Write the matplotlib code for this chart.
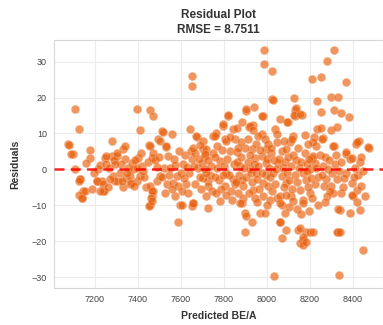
import matplotlib
matplotlib.use("Agg")
import matplotlib.pyplot as plt
import numpy as np

# Predicted values (x) and residuals (y)
pred = [
 7074,7082,7099,7106,7126,7107,7130,7146,7138,7126,7141,7152,7133,7091,7127,
 7177,7177,7161,7208,7231,7239,7246,7211,7239,7242,7215,7195,7185,7222,7250,7223,
 7278,7278,7301,7308,7285,7296,7332,7340,7340,7320,7265,7290,7315,7330,7260,7345,7305,7254,7293,7270,7324,
 7355,7371,7378,7362,7362,7394,7401,7408,7409,7366,7381,7397,7420,7430,7415,7440,7385,7425,7350,7395,7445,
 7456,7470,7454,7456,7464,7470,7456,7464,7456,7471,7487,7502,7466,7459,7451,7466,7494,7510,7502,7518,7530,7533,7541,7520,7490,7480,7510,7535,7525,7545,7500,
 7557,7549,7580,7564,7572,7595,7587,7603,7626,7634,7650,7642,7651,7654,7570,7590,7610,7620,7600,7585,7615,7640,7630,7560,7645,7575,7605,
 7657,7650,7656,7665,7673,7670,7657,7704,7711,7727,7727,7719,7750,7719,7703,7711,7703,7727,7680,7690,7700,7740,7735,7745,7665,7685,7695,7715,7725,7660,7748,7690,7710,
 7765,7758,7797,7797,7820,7820,7804,7812,7843,7851,7781,7812,7843,7781,7760,7770,7775,7790,7800,7805,7815,7825,7830,7835,7845,7785,7795,7760,7770,7810,7840,7828,7850,7765,
 7859,7859,7874,7882,7866,7890,7890,7882,7874,7898,7902,7929,7898,7905,7905,7916,7935,7941,7921,7936,7929,7944,7921,7936,7860,7870,7880,7885,7895,7900,7905,7910,7915,7925,7930,7940,7945,7865,7880,7910,7950,7855,7920,7948,
 7986,7987,7980,7975,7975,7960,7990,7998,7975,7998,7952,7983,8006,7983,8014,7967,7990,8026,8022,8029,8037,8045,8045,8052,8032,7960,7965,7970,7995,8000,8010,8015,8020,8025,8030,8035,8040,8005,7955,8000,8048,8018,7978,8042,
 8060,8068,8091,8107,8122,8119,8130,8130,8099,8094,8125,8135,8125,8068,8091,8060,8114,8068,8084,8060,8063,8091,8068,8145,8060,8122,8055,8075,8080,8085,8095,8100,8105,8110,8115,8120,8130,8135,8140,8145,8078,8102,8138,8088,8148,
 8161,8153,8153,8169,8200,8153,8184,8169,8153,8169,8166,8181,8200,8215,8197,8166,8209,8235,8220,8228,8212,8215,8231,8215,8223,8200,8160,8170,8175,8180,8185,8190,8195,8205,8210,8225,8230,8240,8245,8175,8190,8240,8158,8188,
 8251,8280,8313,8297,8331,8251,8311,8344,8251,8297,8324,8262,8254,8313,8308,8277,8300,8324,8308,8339,8331,8331,8324,8339,8335,8293,8260,8270,8285,8290,8305,8315,8320,8335,8345,8265,8280,8270,8345,8255,
 8370,8380,8414,8428,8474,8367,8386,8370,8417,8471,8394,8370,8394,8417,8401,8440,8394,8386,8432,8448,8360,8410,8425,8435,8445,8455,8420,8355,8440,8405,
]
resid = [
 7.0,6.7,4.2,16.8,11.2,0.0,-2.8,-6.1,-7.9,-7.0,-7.9,-6.1,-2.8,4.2,-3.3,
 5.4,3.3,1.9,-3.3,-3.3,-6.1,3.3,-3.3,-4.2,-6.1,0.0,-1.0,-5.5,1.2,1.5,-6.1,
 7.9,3.7,3.7,-3.3,-1.9,-3.3,5.6,6.5,3.0,1.5,0.5,2.5,-1.0,-5.0,-4.8,-2.5,4.5,3.7,1.4,-2.8,-3.3,
 0.5,1.9,0.0,-1.9,-4.2,-3.3,3.3,11.0,-1.9,-3.7,-4.7,16.8,1.0,-2.0,4.5,-5.0,2.5,-0.5,-1.0,0.5,2.0,
 16.5,14.8,6.7,6.5,3.3,4.6,-4.7,-7.5,-9.8,-6.1,-3.3,-1.9,-6.1,-7.9,-10.3,-8.9,8.4,10.7,7.9,10.3,6.1,6.5,3.7,0.5,0.8,2.5,-2.0,-4.0,-6.5,-1.5,3.5,
 9.8,0.5,-1.9,-3.7,-7.5,-9.8,-14.5,-9.8,-4.2,-6.5,2.8,11.2,26.1,23.3,3.0,5.0,1.5,4.0,-1.0,-4.5,-2.5,-1.0,0.8,-5.5,5.2,1.2,-6.0,
 -9.3,-10.3,-9.3,4.6,8.9,9.3,6.0,5.6,3.7,-3.3,-10.7,-7.5,9.3,5.6,7.9,4.2,-2.3,-4.7,0.5,-2.0,1.8,1.0,-1.5,-6.0,-4.0,3.0,-5.5,-1.0,2.5,1.0,4.5,6.8,0.0,
 10.0,9.3,12.1,12.6,14.9,15.1,8.4,7.9,11.2,8.4,2.3,-0.9,-2.8,-8.9,3.5,0.5,-3.0,5.5,1.0,-4.5,3.0,-1.5,5.0,-6.0,1.5,-5.5,-1.5,-2.0,6.5,-7.0,-8.5,9.0,-4.0,-6.5,
 11.4,4.7,1.0,13.1,-6.5,-4.7,-7.9,-9.3,-9.3,-12.1,-13.1,-14.5,-17.3,16.3,16.8,11.8,12.3,17.3,12.1,11.0,5.6,3.3,0.0,-5.6,2.0,-1.5,3.5,-3.0,0.5,6.0,-2.0,2.0,-6.5,-1.0,-3.5,1.5,-8.0,6.0,7.5,8.5,-1.0,-3.5,4.0,7.0,
 33.1,29.4,14.9,14.9,9.8,9.3,8.4,5.6,3.7,1.9,-2.8,-3.7,-4.7,-7.5,-8.4,-12.1,-12.1,27.4,19.6,19.3,11.2,9.8,7.5,1.9,-29.7,1.0,-5.5,5.5,-1.5,3.0,0.5,-2.0,4.5,-6.0,-1.0,2.5,-4.0,7.0,-9.0,-10.0,-8.0,6.0,-1.0,0.0,
 14.0,5.1,5.6,7.5,9.3,8.4,14.9,16.5,13.1,13.2,19.9,17.1,15.1,-1.9,-3.7,-7.5,-7.5,-9.8,-12.1,-14.5,-14.5,-16.8,-19.1,-16.8,-9.3,-8.9,3.0,0.5,-5.0,2.0,-1.0,3.5,-3.0,1.0,-5.5,4.0,-1.5,2.5,-3.5,6.0,8.0,-10.5,-11.0,-7.0,0.5,
 15.1,15.4,-5.6,-8.4,-6.5,-16.3,-17.3,-19.6,-20.5,-18.7,-21.0,-20.1,-17.3,-17.3,-11.7,-9.3,25.2,19.1,8.9,6.5,3.3,7.5,11.2,3.7,1.9,0.0,2.0,-1.0,4.5,-3.0,1.5,-5.0,3.0,-2.5,-8.0,-4.0,0.5,-2.0,4.0,9.5,7.0,-10.0,-12.5,-0.5,
 25.7,30.2,33.1,20.1,20.1,15.9,16.5,15.6,11.4,10.9,11.8,8.6,8.4,6.5,6.5,-2.8,-4.7,-2.8,-6.5,-11.2,-11.0,-17.3,-17.3,-17.3,-29.4,-6.1,1.0,3.5,0.0,2.5,-1.0,1.5,4.0,-0.5,2.0,-4.5,-7.5,-9.0,-6.5,-1.5,
 24.3,14.6,7.0,7.9,5.9,4.2,2.8,4.7,7.5,6.1,3.3,-0.9,-3.7,-5.6,-7.5,-4.7,-7.0,-12.1,-11.4,-22.4,-2.5,0.5,-1.5,2.0,-0.5,-7.5,-9.0,-5.0,3.5,-2.0,
]
rmse_text = "8.7511"
xticks = [7200, 7400, 7600, 7800, 8000, 8200, 8400]
yticks = [-30, -20, -10, 0, 10, 20, 30]

plt.rcParams['font.family'] = ['Liberation Sans', 'DejaVu Sans']

fig = plt.figure(figsize=(3.83, 3.25), dpi=100)
ax = fig.add_axes([54/383, 37/325, 1 - 54/383, 248/325])

ax.set_facecolor('white')
ax.grid(True, color='#ececec', linewidth=0.8)
ax.set_axisbelow(True)
for s in ax.spines.values():
    s.set_color('#d8d8d8')
    s.set_linewidth(0.8)

ax.scatter(pred, resid, s=34, color='#e85d08', alpha=0.65,
           edgecolors='#f3b088', linewidths=0.5, zorder=2)
ax.axhline(0, color='red', linestyle='--', linewidth=1.8, alpha=0.85,
           dashes=(4, 2.5), zorder=3)

ax.set_xlim(7010, 8540)
ax.set_ylim(-33, 36)
ax.set_xticks(xticks)
ax.set_yticks(yticks)
ax.tick_params(axis='both', labelsize=6.5, colors='#444444', length=0, pad=5)

ax.set_title("Residual Plot\nRMSE = " + rmse_text, fontsize=8.5, fontweight='bold',
             color='#333333', pad=5, linespacing=1.35)
ax.set_xlabel("Predicted BE/A", fontsize=7.5, fontweight='bold', color='#333333', labelpad=5)
ax.set_ylabel("Residuals", fontsize=7.5, fontweight='bold', color='#333333', labelpad=8)

fig.savefig("out.png", dpi=100)
